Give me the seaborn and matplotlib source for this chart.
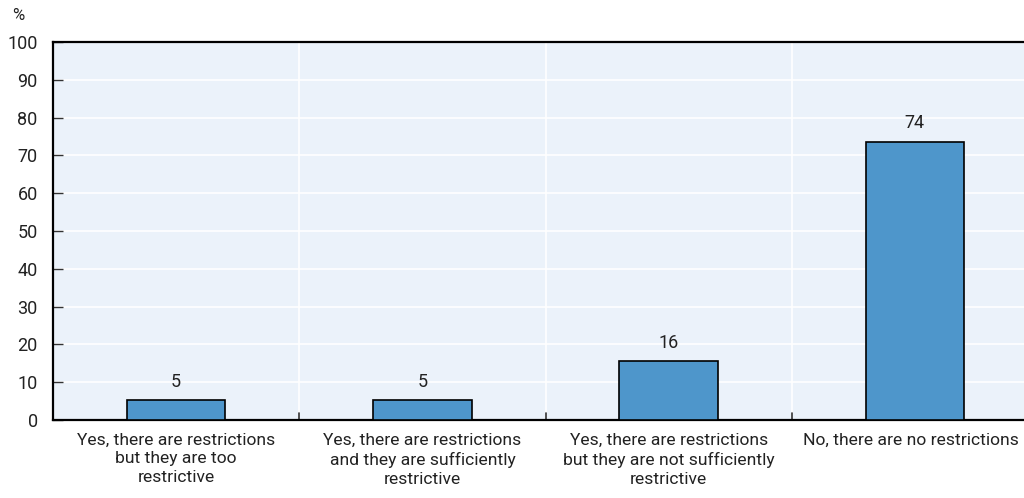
import matplotlib
matplotlib.use("Agg")
import matplotlib.pyplot as plt
import matplotlib.transforms as mtransforms
import seaborn as sns
import pandas as pd
from matplotlib import font_manager

categories = [
    "Yes, there are restrictions\nbut they are too\nrestrictive",
    "Yes, there are restrictions\nand they are sufficiently\nrestrictive",
    "Yes, there are restrictions\nbut they are not sufficiently\nrestrictive",
    "No, there are no restrictions",
]
values = [5.3, 5.3, 15.6, 73.6]
value_labels = ["5", "5", "16", "74"]
y_ticks = [0, 10, 20, 30, 40, 50, 60, 70, 80, 90, 100]

sns.set_theme(style="white")
names = {f.name for f in font_manager.fontManager.ttflist}
fam = "Liberation Sans Narrow" if "Liberation Sans Narrow" in names else "Roboto"
plt.rcParams["font.family"] = [fam, "DejaVu Sans"]

df = pd.DataFrame({"cat": categories, "val": values})

fig = plt.figure(figsize=(10.24, 4.98), dpi=100)
ax = fig.add_axes([53 / 1024, 1 - 420 / 498, (1038 - 53) / 1024, (420 - 42) / 498])
ax.set_facecolor("#EBF2FA")

sns.barplot(data=df, x="cat", y="val", ax=ax, color="#4E96CB", saturation=1,
            width=0.4, edgecolor="black", linewidth=1.2, zorder=3)

fs = 13
ax.set_ylim(0, 100)
ax.set_xlim(-0.5, 3.5)
ax.set_yticks(y_ticks)
ax.set_yticklabels([str(t) for t in y_ticks], fontsize=fs, color="#222222")
ax.set_xticks([0, 1, 2, 3])
ax.set_xticklabels(categories, fontsize=12.6, color="#222222", linespacing=1.32)
ax.tick_params(axis="x", length=0, pad=9)
ax.tick_params(axis="y", direction="in", length=7, width=1, color="#333333", pad=11, left=True)
for lab in ax.get_yticklabels():
    lab.set_horizontalalignment("right")
last = ax.get_xticklabels()[-1]
last.set_transform(last.get_transform() + mtransforms.ScaledTranslation(-4 / 100, 0, fig.dpi_scale_trans))

ax.grid(axis="y", color="white", linewidth=1.2, zorder=0)
for b in [0.5, 1.5, 2.5]:
    ax.axvline(b, color="white", linewidth=1.2, zorder=1)
    ax.plot([b, b], [0, 1.9], color="#333333", linewidth=1.2, zorder=2, clip_on=False)

ax.spines["right"].set_visible(False)
for s in ["left", "top", "bottom"]:
    ax.spines[s].set_visible(True)
    ax.spines[s].set_color("black")
    ax.spines[s].set_linewidth(1.6)

for i, (v, lab) in enumerate(zip(values, value_labels)):
    ax.text(i, v + 2.5, lab, ha="center", va="bottom", fontsize=fs, color="#222222")

ax.set_xlabel("")
ax.set_ylabel("")
fig.text(18 / 1024, 1 - 15 / 498, "%", ha="center", va="center", fontsize=12, color="#222222")

fig.savefig("out.png", dpi=100)
